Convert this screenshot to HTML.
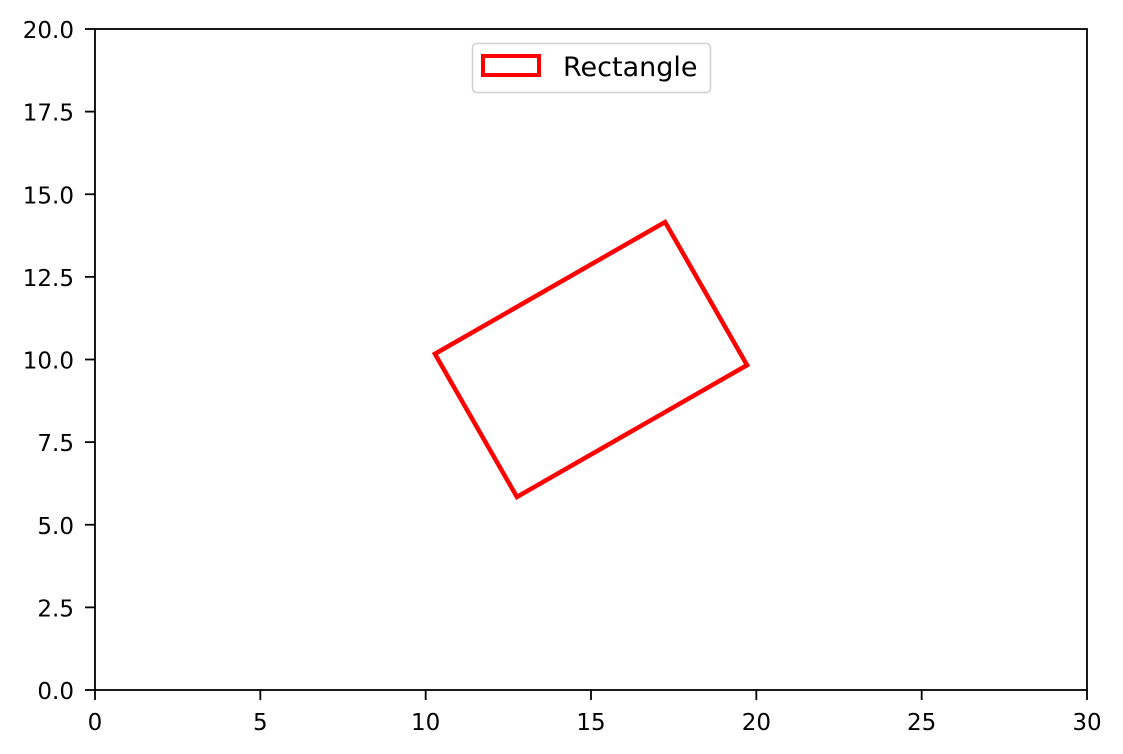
<!DOCTYPE html>
<html><head><meta charset="utf-8"><style>
body{margin:0;background:#fff}
svg{display:block;font-family:"DejaVu Sans","Liberation Sans",sans-serif}
</style></head><body>
<svg id="chart" width="1123" height="754"></svg>
<script>
const xTicks=[0,5,10,15,20,25,30];
const yTicks=[0,2.5,5,7.5,10,12.5,15,17.5,20];
const rectX=[10.28,17.24,19.72,12.76];
const rectY=[10.17,14.16,9.83,5.84];
const seriesName="Rectangle";

const L=95,R=1087,T=29,B=690;
const sx=v=>L+(v-0)/(30-0)*(R-L);
const sy=v=>B-(v-0)/(20-0)*(B-T);
const svg=document.getElementById('chart');
const NS='http://www.w3.org/2000/svg';
function mk(t,a,p){const e=document.createElementNS(NS,t);for(const k in a)e.setAttribute(k,a[k]);(p||svg).appendChild(e);return e;}

const poly=mk('polygon',{points:rectX.map((x,i)=>sx(x)+','+sy(rectY[i])).join(' '),fill:'none',stroke:'#ff0000','stroke-width':4.5,'stroke-linejoin':'miter'});



const frame=mk('rect',{x:L,y:T,width:R-L,height:B-T,fill:'none',stroke:'#000','stroke-width':1.8});



xTicks.forEach(v=>{
  const x=sx(v);
  mk('line',{x1:x,y1:B,x2:x,y2:B+10,stroke:'#000','stroke-width':1.8});
  const t=mk('text',{x:x,y:730,'text-anchor':'middle','font-size':23});
  t.textContent=v;
  
  
});
yTicks.forEach(v=>{
  const y=sy(v);
  mk('line',{x1:L-10,y1:y,x2:L,y2:y,stroke:'#000','stroke-width':1.8});
  const t=mk('text',{x:74,y:y+9,'text-anchor':'end','font-size':23});
  t.textContent=v.toFixed(1);
  
  
});

const lg=mk('g',{});


mk('rect',{x:472.5,y:43.5,width:238,height:49,rx:4,fill:'#fff',stroke:'#d0d0d0','stroke-width':1.5},lg);
const lp=mk('rect',{x:483,y:56,width:56,height:19,fill:'none',stroke:'#ff0000','stroke-width':4},lg);


const lt=mk('text',{x:563,y:76,'font-size':27},lg);
lt.textContent=seriesName;


</script>
</body></html>
